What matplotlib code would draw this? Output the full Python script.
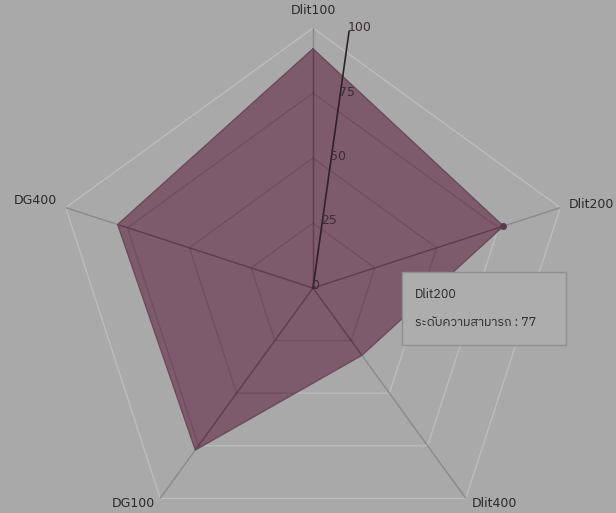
import numpy as np
import matplotlib
matplotlib.use("Agg")
import matplotlib.pyplot as plt
from matplotlib.patches import Rectangle
from matplotlib import font_manager
from matplotlib.ft2font import FT2Font

# data
categories = ["Dlit100", "Dlit200", "Dlit400", "DG100", "DG400"]
values = [92, 77, 32, 77, 79]
ring_ticks = [25, 50, 75, 100]
tick_labels = ["0", "25", "50", "75", "100"]
tip_title = "Dlit200"
tip_text = "ระดับความสามารถ : 77"

BG = "#a9a9a9"
FILL = "#704059"


def thai_font():
    """Find an installed font that has Thai glyphs."""
    best = None
    for path in font_manager.findSystemFonts():
        try:
            f = FT2Font(path)
            if 0x0E23 in f.get_charmap():
                name = font_manager.FontProperties(fname=path).get_name()
                if "Sans" in name and "Mono" not in name:
                    return name
                best = best or name
        except Exception:
            continue
    return best


tf = thai_font()
fam = [tf, "DejaVu Sans"] if tf else ["DejaVu Sans"]

W, H = 616, 513
fig = plt.figure(figsize=(W / 100, H / 100), dpi=100, facecolor=BG)
cx, cy, R = 313, 288, 260
ax = fig.add_axes([(cx - R) / W, (H - cy - R) / H, 2 * R / W, 2 * R / H],
                  projection="polar")
ax.set_facecolor("none")
ax.set_theta_offset(np.pi / 2)
ax.set_theta_direction(-1)
ax.set_ylim(0, 100)
ax.grid(False)
ax.spines["polar"].set_visible(False)
ax.set_xticks([])
ax.set_yticks([])

n = len(categories)
theta = np.arange(n) * 2 * np.pi / n
tc = np.append(theta, theta[0])
vc = np.append(values, values[0])

# data polygon
poly = ax.fill(tc, vc, color=FILL, alpha=0.75, zorder=2, lw=0)[0]
ax.plot(tc, vc, color="#6a4a5c", lw=1, zorder=3)
ax.plot([theta[1]], [values[1]], "o", color="#5a3a4c", ms=4, zorder=4)

# grid: light on the background, darker where it crosses the filled area
for r in ring_ticks:
    ax.plot(tc, [r] * (n + 1), color="#bcbcbc", lw=1, zorder=1)
    ln, = ax.plot(tc, [r] * (n + 1), color="#5e3d50", lw=1, alpha=0.5, zorder=2.5)
    ln.set_clip_path(poly)
for t in theta:
    ax.plot([t, t], [0, 100], color="#8a8a8a", lw=1, zorder=1)
    ln, = ax.plot([t, t], [0, 100], color="#4e3040", lw=1, alpha=0.6, zorder=2.5)
    ln.set_clip_path(poly)

# value axis (tilted)
ta = np.deg2rad(8)
ax.plot([ta, ta], [0, 100], color="#2e2229", lw=1.2, zorder=5)
for r, lab in zip([0] + ring_ticks, tick_labels):
    ax.annotate(lab, (ta, r), xytext=(-1, 2), textcoords="offset points",
                ha="left", va="center", fontsize=9, color="#3a2d35", zorder=6)

# category labels
offs = [((0, 8), "center", "bottom"),
        ((6, 2), "left", "center"),
        ((4, -4), "left", "center"),
        ((-4, -4), "right", "center"),
        ((-6, 5), "right", "center")]
for t, lab, (o, ha, va) in zip(theta, categories, offs):
    ax.annotate(lab, (t, 100), xytext=o, textcoords="offset points",
                ha=ha, va=va, fontsize=9, color="#2a2a2a", annotation_clip=False)

# tooltip
x0, y0, x1, y1 = 402, 272, 566, 345
fig.patches.append(Rectangle((x0 / W, 1 - y1 / H), (x1 - x0) / W, (y1 - y0) / H,
                             transform=fig.transFigure, facecolor="#adadad",
                             edgecolor="#8f8f8f", lw=1, zorder=10))
fig.text(415 / W, 1 - 294 / H, tip_title, fontsize=9, color="#2a2a2a",
         va="center", ha="left", zorder=11, family=fam)
fig.text(415 / W, 1 - 322 / H, tip_text, fontsize=9, color="#2a2a2a",
         va="center", ha="left", zorder=11, family=fam)

fig.savefig("out.png", dpi=100, facecolor=BG)
